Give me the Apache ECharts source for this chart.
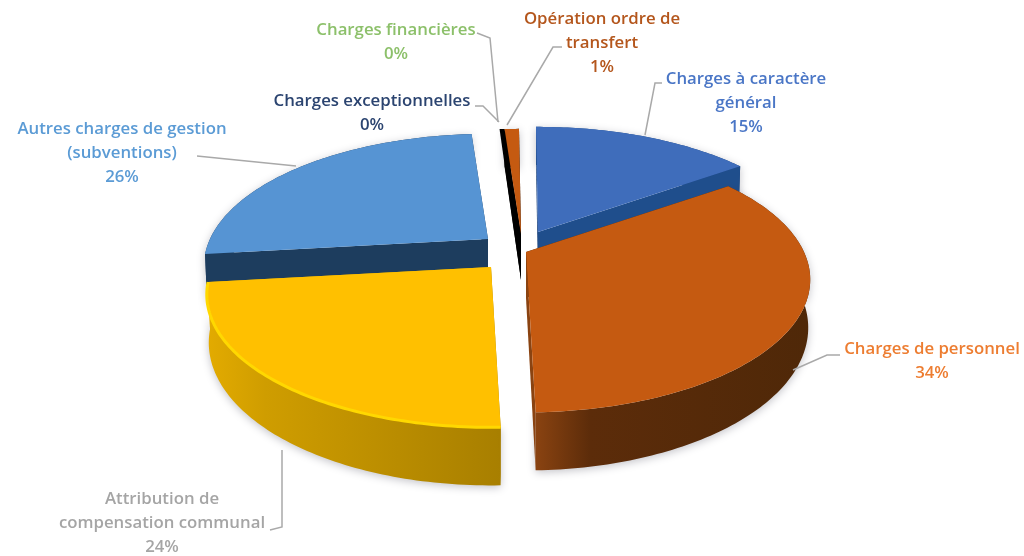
<!DOCTYPE html>
<html>
<head>
<meta charset="utf-8">
<style>html,body{margin:0;padding:0;background:#fff}#chart{width:1024px;height:556px;filter:blur(0.5px)}</style>
<script src="https://cdn.jsdelivr.net/npm/echarts@6/dist/echarts.min.js"></script>
</head>
<body>
<div id="chart"></div>
<script>
// valeurs
var categories = ['Charges à caractère\ngénéral', 'Charges de personnel', 'Attribution de\ncompensation communal',
	'Autres charges de gestion\n(subventions)', 'Charges exceptionnelles', 'Charges financières', 'Opération ordre de\ntransfert'];
var values = [15.3, 34.4, 23.6, 25.7, 0, 0, 1.0];

// couleurs
var topColors = ['#3f6dbb', '#c55a11', '#ffc000', '#5694d3', '#264478', '#70ad47', '#c55a11'];
var wallLeft = ['#1f4e8c', '#8a4311', '#e3ab00', '#1d3d5e', '#1d3d5e', '#000', '#000000'];
var wallMid = ['#1f4e8c', '#5c2c0a', '#cf9d00', '#1d3d5e', '#1d3d5e', '#000', '#000000'];
var wallRight = ['#173f78', '#4f2808', '#a87f00', '#1d3d5e', '#1d3d5e', '#000', '#000000'];
var labelColors = ['#4a76c6', '#ed7d31', '#a5a5a5', '#5b9bd5', '#2b4470', '#8cc06a', '#b4561c'];

// mise en page
var centerX = 512, centerY = 247, radiusX = 278, radiusY = 127, persp = 0.208, depth = 46;
var startAngle = -0.5;
var shiftX = [26, 14, -21, -24, 0, 0, 9];
var shiftY = [-15, 5, 20, -8, 0, 0, -13];
var drawRank = [3, 5, 4, 2, 0, 0, 1];
var labelX = [746, 932, 162, 122, 372, 396, 602];
var labelY = [79, 349, 499, 129, 101, 30, 19];
var leaders = [
	[[645, 135], [655, 83], [662, 83]],
	[[793, 370], [827, 355], [840, 355]],
	[[282, 450], [282, 527], [270, 530]],
	[[197, 156], [296, 166]],
	[[475, 106], [483, 106], [499, 122]],
	[[477, 33], [490, 38], [498, 122]],
	[[507, 125], [553, 47], [562, 47]]
];

var total = 0;
for (var t = 0; t < values.length; t++) total += values[t];

function project(i, deg, r, bottom) {
	var a = deg * Math.PI / 180;
	var X = r * Math.sin(a), Y = -r * Math.cos(a);
	var s = 1 / (1 - persp * Y);
	var shrink = bottom ? 0.993 : 1;
	var x = centerX + shiftX[i] + radiusX * X * s * shrink;
	var y = centerY + shiftY[i] + radiusY * Y * s;
	if (bottom) y += depth * s;
	return [x, y];
}

function arc(i, from, to, bottom) {
	var pts = [];
	var n = Math.max(2, Math.ceil(Math.abs(to - from)));
	for (var k = 0; k <= n; k++) pts.push(project(i, from + (to - from) * k / n, 1, bottom));
	return pts;
}

function grad(i) {
	return new echarts.graphic.LinearGradient(0, 0, 1, 0, [
		{offset: 0, color: wallLeft[i]},
		{offset: 0.2, color: wallMid[i]},
		{offset: 1, color: wallRight[i]}
	]);
}

function renderSlice(params, api) {
	var i = params.dataIndex;
	var val = api.value(0);
	var before = 0;
	for (var j = 0; j < i; j++) before += values[j];
	var a0 = startAngle + before / total * 360;
	var a1 = a0 + val / total * 360;
	var z = drawRank[i] * 10;
	var kids = [];

	if (val > 0) {
		var apexTop = project(i, 0, 0, false);
		var apexBot = project(i, 0, 0, true);
		var topArc = arc(i, a0, a1, false);
		var botArc = arc(i, a0, a1, true);
		var first = topArc[0], last = topArc[topArc.length - 1];
		var firstB = botArc[0], lastB = botArc[botArc.length - 1];

		// paroi extérieure
		kids.push({type: 'polygon', z2: z, shape: {points: topArc.concat(botArc.slice().reverse())},
			style: {fill: grad(i), shadowBlur: 9, shadowColor: 'rgba(40,40,60,0.28)', shadowOffsetY: 2}});
		// parois radiales
		kids.push({type: 'polygon', z2: z + 1, shape: {points: [first, apexTop, apexBot, firstB]},
			style: {fill: wallRight[i]}});
		kids.push({type: 'polygon', z2: z + 1, shape: {points: [last, apexTop, apexBot, lastB]},
			style: {fill: wallLeft[i]}});
		if (val < 2) {
			// tranche fine : le flanc noir déborde à gauche
			kids.push({type: 'polygon', z2: z + 1, shape: {points: [[first[0] - 5, first[1]], first, apexTop, apexBot]},
				style: {fill: wallRight[i]}});
		}
		// face du dessus
		kids.push({type: 'polygon', z2: z + 2, shape: {points: [apexTop].concat(topArc)},
			style: {fill: topColors[i]}});
		if (i === 2) {
			// liseré clair de la tranche jaune
			kids.push({type: 'polyline', z2: z + 3, shape: {points: topArc},
				style: {stroke: '#ffd800', lineWidth: 3, fill: null}});
		}
	}

	// trait de rappel et étiquette
	kids.push({type: 'polyline', z2: 90, shape: {points: leaders[i]},
		style: {stroke: '#a9a9a9', lineWidth: 1.5, fill: null}});
	kids.push({type: 'text', z2: 91, x: labelX[i], y: labelY[i] - 12, style: {
		text: categories[i] + '\n' + Math.round(val) + '%',
		fill: labelColors[i], align: 'center', verticalAlign: 'top',
		font: '600 16.8px "Open Sans"', lineHeight: 24
	}});
	return {type: 'group', children: kids};
}

var myChart = echarts.init(document.getElementById('chart'));
myChart.setOption({
	animation: false,
	backgroundColor: '#fff',
	series: [{
		type: 'custom',
		coordinateSystem: 'none',
		renderItem: renderSlice,
		data: values.map(function (v) { return [v]; })
	}]
});
</script>
</body>
</html>
